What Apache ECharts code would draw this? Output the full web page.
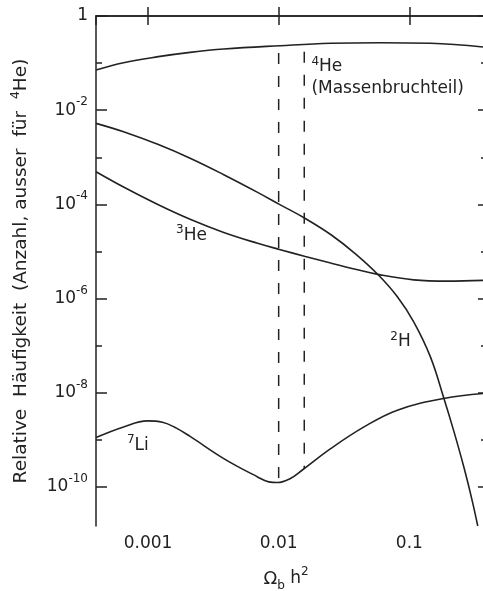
<!DOCTYPE html>
<html><head><meta charset="utf-8">
<script src="https://cdn.jsdelivr.net/npm/echarts@6/dist/echarts.min.js"></script>
<style>html,body{margin:0;padding:0;background:#fff}#c{width:483px;height:591px}</style>
</head><body><div id="c"></div>
<script>
// ---- data ----
const he4X = [0.0004, 0.00065, 0.0012, 0.0021, 0.0038, 0.0103, 0.025, 0.06, 0.145, 0.4];
const he4Y = [0.071, 0.102, 0.137, 0.169, 0.199, 0.234, 0.263, 0.271, 0.263, 0.215];

const dX = [0.0004, 0.00065, 0.0012, 0.0021, 0.0038, 0.0069, 0.0103, 0.016, 0.025, 0.0387, 0.058, 0.081, 0.108, 0.145, 0.183, 0.219, 0.261, 0.302, 0.334];
const dY = [5.25e-3, 3.48e-3, 1.86e-3, 9.55e-4, 4.27e-4, 1.80e-4, 9.77e-5, 5.01e-5, 2.29e-5, 8.91e-6, 3.16e-6, 1.09e-6, 3.2e-7, 5.78e-8, 7.94e-9, 1.53e-9, 2.67e-10, 5.25e-11, 1.48e-11];

const he3X = [0.0004, 0.00065, 0.0012, 0.0021, 0.0038, 0.0069, 0.0103, 0.016, 0.025, 0.0387, 0.06, 0.108, 0.195, 0.4];
const he3Y = [4.92e-4, 2.33e-4, 9.8e-5, 4.82e-5, 2.53e-5, 1.49e-5, 1.09e-5, 7.83e-6, 5.68e-6, 4.2e-6, 3.18e-6, 2.49e-6, 2.34e-6, 2.45e-6];

const li7X = [0.0004, 0.00065, 0.00099, 0.00129, 0.00165, 0.0021, 0.0038, 0.0069, 0.0084, 0.0098, 0.0123, 0.0151, 0.025, 0.045, 0.081, 0.183, 0.4];
const li7Y = [1.12e-9, 1.88e-9, 2.52e-9, 2.37e-9, 1.77e-9, 1.18e-9, 4.0e-10, 1.63e-10, 1.28e-10, 1.24e-10, 1.51e-10, 2.26e-10, 6.5e-10, 1.88e-9, 4.26e-9, 7.55e-9, 9.8e-9];

const dashX = [0.0100, 0.0157];
const dashTop = [0.164, 0.175];
const dashBottom = [1.26e-10, 2.4e-10];

const xTickValues = [0.001, 0.01, 0.1];
const xTickLabels = ['0.001', '0.01', '0.1'];
const yMajorExps = [0, -2, -4, -6, -8, -10];
const yMinorExps = [-1, -3, -5, -7, -9];

// ---- styling ----
const FONT = 'DejaVu Sans';
const INK = '#222';
const lg = v => Math.log10(v);
const pts = (xs, ys) => xs.map((x, i) => [x, lg(ys[i])]);
const axisLineStyle = { color: INK, width: 1.5 };

const base = (size, lh) => ({ fontFamily: FONT, color: INK, fontSize: size, lineHeight: lh, verticalAlign: 'middle' });
const sup = (size, lh) => ({ fontFamily: FONT, color: INK, fontSize: size, lineHeight: lh, verticalAlign: 'top' });
const sub = (size, lh) => ({ fontFamily: FONT, color: INK, fontSize: size, lineHeight: lh, verticalAlign: 'bottom' });

const inlineRich = { n: base(17, 22), s: sup(12, 8) };

function textMark(x, y, text) {
  return {
    symbol: 'circle', symbolSize: 0, silent: true, animation: false,
    data: [{ coord: [x, lg(y)], label: { show: true, position: [0, 0], align: 'left', verticalAlign: 'middle', formatter: text, rich: inlineRich } }]
  };
}

function curve(name, xs, ys, mark) {
  const s = { type: 'line', name, data: pts(xs, ys), smooth: 0.4, symbol: 'none', clip: true, silent: true,
    lineStyle: { color: INK, width: 1.6 } };
  if (mark) s.markPoint = mark;
  return s;
}

function dashed(i) {
  return { type: 'line', data: [[dashX[i], lg(dashTop[i])], [dashX[i], lg(dashBottom[i])]], symbol: 'none', silent: true,
    lineStyle: { color: INK, width: 1.5, type: [11, 12] } };
}

const xBase = { type: 'log', logBase: 10, min: 0.0004, max: 0.4, splitLine: { show: false }, minorTick: { show: false } };
const yBase = { type: 'value', min: -10.83, max: 0, splitLine: { show: false }, axisLine: { show: false },
  axisTick: { show: false }, axisLabel: { show: false } };

function xLabel(v) {
  for (let i = 0; i < xTickValues.length; i++) {
    if (Math.abs(lg(v) - lg(xTickValues[i])) < 1e-6) return xTickLabels[i];
  }
  return '';
}

const option = {
  backgroundColor: '#fff',
  animation: false,
  grid: { left: 96, width: 392, top: 16, height: 510, containLabel: false, outerBoundsMode: 'none' },
  xAxis: [
    Object.assign({}, xBase, {
      position: 'bottom',
      axisLine: { show: true, lineStyle: axisLineStyle },
      axisTick: { show: true, inside: true, length: 9, lineStyle: axisLineStyle },
      axisLabel: { show: true, margin: 9, fontFamily: FONT, fontSize: 17, color: INK, showMinLabel: false, showMaxLabel: false, formatter: xLabel },
      name: '{o|Ω}{b|b}{n| h}{s|2}',
      nameLocation: 'middle', nameGap: 40,
      nameTextStyle: { padding: [0, 12, 0, 0], rich: { o: base(18, 26), b: sub(12, 10), n: base(17, 26), s: sup(12, 8) } }
    }),
    Object.assign({}, xBase, {
      position: 'top',
      axisLine: { show: true, lineStyle: axisLineStyle },
      axisTick: { show: true, inside: true, length: 9, lineStyle: axisLineStyle },
      axisLabel: { show: false }
    })
  ],
  yAxis: [
    Object.assign({}, yBase, {
      position: 'left',
      axisLine: { show: true, lineStyle: axisLineStyle },
      axisTick: { show: true, inside: true, length: 11, customValues: yMajorExps, lineStyle: axisLineStyle },
      axisLabel: { show: true, margin: 8, customValues: yMajorExps,
        formatter: v => { const e = Math.round(v); return e === 0 ? '{n|1}' : '{n|10}{s|' + e + '}'; },
        rich: { n: base(17, 28), s: sup(12, 8) } },
      name: '{n|Relative  Häufigkeit  (Anzahl, ausser  für  }{s|4}{n|He)}',
      nameLocation: 'middle', nameGap: 63,
      nameTextStyle: { rich: { n: base(18.5, 24), s: sup(12.5, 8) } }
    }),
    Object.assign({}, yBase, {
      position: 'left',
      axisTick: { show: true, inside: true, length: 6, customValues: yMinorExps, lineStyle: axisLineStyle }
    }),
    Object.assign({}, yBase, {
      position: 'right',
      axisLine: { show: true, lineStyle: axisLineStyle },
      axisTick: { show: true, inside: true, length: 10, customValues: yMajorExps, lineStyle: axisLineStyle }
    }),
    Object.assign({}, yBase, {
      position: 'right',
      axisTick: { show: true, inside: true, length: 7, customValues: yMinorExps, lineStyle: axisLineStyle }
    })
  ],
  series: [
    curve('4He', he4X, he4Y, textMark(0.0178, 0.0482, '{s|4}{n|He}\n{n|(Massenbruchteil)}')),
    curve('2H', dX, dY, textMark(0.0716, 1.22e-7, '{s|2}{n|H}')),
    curve('3He', he3X, he3Y, textMark(0.00164, 2.2e-5, '{s|3}{n|He}')),
    curve('7Li', li7X, li7Y, textMark(0.000690, 7.7e-10, '{s|7}{n|Li}')),
    dashed(0),
    dashed(1)
  ]
};

const chart = echarts.init(document.getElementById('c'), null, { renderer: 'canvas' });
chart.setOption(option);
</script>
</body></html>
